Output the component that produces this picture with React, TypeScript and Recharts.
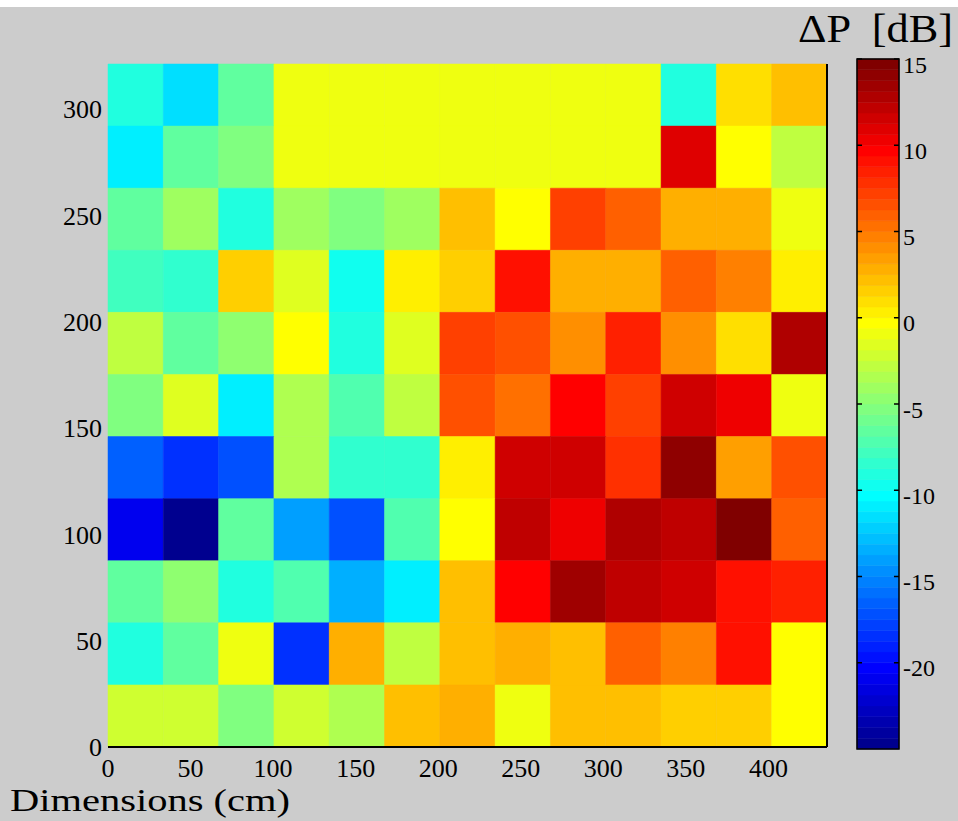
import { ComposedChart, XAxis, YAxis, ReferenceArea, ReferenceLine } from "recharts";

// ΔP map, dB. One row per 29.2 cm strip, listed from the top strip down,
// 13 cells of 33.5 cm each from x = 0.
const dpRow1 = [-9.1, -11.5, -6.3, -1.0, -1.0, -1.0, -1.0, -1.0, -1.0, -1.0, -9.1, 1.0, 2.4];
const dpRow2 = [-10.9, -6.3, -5.3, -1.0, -1.0, -1.0, -1.0, -1.0, -1.0, -1.0, 11.0, -0.3, -2.8];
const dpRow3 = [-6.3, -4.0, -9.1, -4.0, -5.3, -4.0, 2.4, -0.3, 7.2, 6.0, 2.8, 2.8, -1.0];
const dpRow4 = [-7.6, -8.4, 1.6, -1.6, -9.7, 0.3, 1.6, 9.1, 2.8, 2.8, 6.0, 4.7, 0.3];
const dpRow5 = [-2.8, -6.3, -4.7, -0.3, -9.1, -1.6, 7.2, 6.6, 4.1, 8.4, 4.1, 0.9, 12.8];
const dpRow6 = [-5.3, -1.6, -11.0, -3.4, -6.9, -2.8, 6.6, 5.3, 9.7, 7.2, 11.6, 10.3, -0.9];
const dpRow7 = [-16.5, -18.4, -16.9, -3.4, -8.4, -8.4, 0.3, 11.3, 11.6, 7.8, 14.1, 3.4, 6.6];
const dpRow8 = [-21.0, -24.7, -6.3, -14.1, -17.2, -6.9, -0.3, 12.2, 10.3, 12.8, 12.2, 14.7, 6.0];
const dpRow9 = [-6.3, -4.7, -9.1, -6.9, -13.4, -11.0, 2.4, 9.7, 13.4, 12.2, 11.6, 9.1, 8.4];
const dpRow10 = [-9.1, -6.3, -1.0, -18.4, 3.1, -2.8, 2.4, 3.1, 2.4, 6.0, 4.7, 9.1, -0.3];
const dpRow11 = [-2.1, -2.1, -5.3, -2.1, -3.4, 2.4, 3.1, -1.0, 2.4, 2.4, 1.6, 1.6, -0.3];

const dpRows = [dpRow1, dpRow2, dpRow3, dpRow4, dpRow5, dpRow6, dpRow7, dpRow8, dpRow9, dpRow10, dpRow11];

const cellWidth = 33.5;
const cellHeight = 29.2;
const xTicks = [0, 50, 100, 150, 200, 250, 300, 350, 400];
const yTicks = [0, 50, 100, 150, 200, 250, 300];
const colorTicks = [-20, -15, -10, -5, 0, 5, 10, 15];
const cMin = -25;
const cMax = 15;
const levels = 64;

const font = "'Liberation Serif', 'DejaVu Serif', serif";

// matlab jet(64)
function jetU(k: number) {
  if (k < 1 || k > 47) return 0;
  if (k <= 16) return k / 16;
  if (k <= 31) return 1;
  return (48 - k) / 16;
}
function hex(v: number) {
  return Math.round(v * 255).toString(16).padStart(2, "0");
}
function jetColor(i: number) {
  return "#" + hex(jetU(i - 24)) + hex(jetU(i - 8)) + hex(jetU(i + 8));
}
function colorFor(v: number) {
  let i = Math.floor(((v - cMin) / (cMax - cMin)) * levels) + 1;
  i = Math.max(1, Math.min(levels, i));
  return jetColor(i);
}

const nCols = dpRow1.length;
const nRows = dpRows.length;
const xMax = nCols * cellWidth;
const yMax = nRows * cellHeight;

const cells = dpRows.flatMap((row, r) =>
  row.map((v, c) => ({
    x1: c * cellWidth,
    x2: (c + 1) * cellWidth,
    y1: yMax - (r + 1) * cellHeight,
    y2: yMax - r * cellHeight,
    fill: colorFor(v),
  }))
);

const barSteps = Array.from({ length: levels }, (_, i) => ({
  y1: cMin + (i * (cMax - cMin)) / levels,
  y2: cMin + ((i + 1) * (cMax - cMin)) / levels,
  fill: jetColor(i + 1),
}));

const tickStyle = { fill: "#000", fontSize: 26, fontFamily: font };

// colorbar labels sit a little below their tick marks, like the original
function BarTick(props: any) {
  const { x, y, payload } = props;
  return (
    <text x={x} y={y + 5} dy="0.355em" textAnchor="start" fill="#000" fontSize={24} fontFamily={font}>
      {payload.value}
    </text>
  );
}

export default function App() {
  return (
    <div style={{ position: "absolute", left: 0, top: 0, width: 958, height: 821, background: "#fff" }}>
      <div style={{ position: "absolute", left: 0, top: 7, width: 958, height: 814, background: "#cccccc" }} />
      <div style={{ position: "absolute", left: 0, top: 0 }}>
        <ComposedChart width={958} height={821} margin={{ top: 64, right: 131, bottom: 34, left: 0 }}>
          <XAxis
            type="number"
            dataKey="x"
            domain={[0, xMax]}
            ticks={xTicks}
            interval={0}
            allowDataOverflow
            height={40}
            tickSize={8}
            tickMargin={4}
            tickLine={false}
            axisLine={false}
            tick={tickStyle}
          />
          <YAxis
            type="number"
            dataKey="y"
            domain={[0, yMax]}
            ticks={yTicks}
            interval={0}
            allowDataOverflow
            width={108}
            tickSize={4}
            tickMargin={2}
            tickLine={false}
            axisLine={false}
            tick={tickStyle}
          />
          {cells.map((c, i) => (
            <ReferenceArea
              key={i}
              x1={c.x1}
              x2={c.x2}
              y1={c.y1}
              y2={c.y2}
              fill={c.fill}
              fillOpacity={1}
              stroke={c.fill}
              strokeWidth={0.5}
            />
          ))}
          <ReferenceLine y={0} stroke="#000" strokeWidth={2} />
          <ReferenceLine x={xMax} stroke="#000" strokeWidth={2} />
        </ComposedChart>
      </div>
      <div style={{ position: "absolute", left: 820, top: 0 }}>
        <ComposedChart width={138} height={821} margin={{ top: 59, right: 0, bottom: 72, left: 37 }}>
          <XAxis
            type="number"
            dataKey="x"
            domain={[0, 1]}
            allowDataOverflow
            height={0}
            tick={false}
            tickLine={false}
            axisLine={false}
          />
          <YAxis
            type="number"
            dataKey="y"
            orientation="right"
            domain={[cMin, cMax]}
            ticks={colorTicks}
            interval={0}
            allowDataOverflow
            width={59}
            tickSize={2}
            tickMargin={2}
            tickLine={false}
            axisLine={false}
            tick={<BarTick />}
          />
          {barSteps.map((s, i) => (
            <ReferenceArea key={i} x1={0} x2={1} y1={s.y1} y2={s.y2} fill={s.fill} fillOpacity={1} stroke={s.fill} strokeWidth={0.5} />
          ))}
          <ReferenceArea x1={0} x2={1} y1={cMin} y2={cMax} fill="none" stroke="#000" strokeWidth={1.5} />
          {colorTicks.map((t) => (
            <ReferenceLine key={"l" + t} segment={[{ x: 0, y: t }, { x: 0.12, y: t }]} stroke="#000" strokeWidth={1.5} />
          ))}
          {colorTicks.map((t) => (
            <ReferenceLine key={"r" + t} segment={[{ x: 0.88, y: t }, { x: 1, y: t }]} stroke="#000" strokeWidth={1.5} />
          ))}
        </ComposedChart>
      </div>
      <svg width={958} height={821} style={{ position: "absolute", left: 0, top: 0, pointerEvents: "none" }}>
        <text x={798} y={42} fontFamily={font} fontSize={39} fill="#000" textLength={155} lengthAdjust="spacingAndGlyphs" style={{ whiteSpace: "pre" }}>
          {"ΔP  [dB]"}
        </text>
        <text x={10} y={811} fontFamily={font} fontSize={32} fill="#000" textLength={280} lengthAdjust="spacingAndGlyphs">
          Dimensions (cm)
        </text>
      </svg>
    </div>
  );
}
